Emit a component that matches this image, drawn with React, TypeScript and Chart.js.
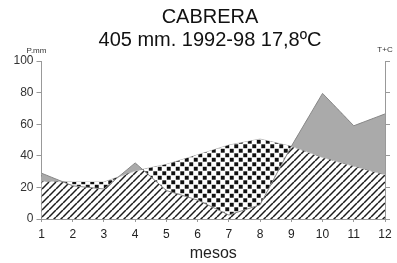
import React, { useEffect, useRef } from 'react';
import { Chart, registerables } from 'chart.js';

Chart.register(...registerables);

const months = ['1', '2', '3', '4', '5', '6', '7', '8', '9', '10', '11', '12'];
const precipitation = [29, 21, 19, 35.5, 18, 12, 2.5, 9, 46, 79.5, 59, 66.5];
const temperature = [12, 11.7, 11.7, 15.2, 17.3, 20.3, 23.4, 25.3, 23, 19.5, 16.7, 14];
const titleLines = ['CABRERA', '405 mm. 1992-98 17,8ºC'];
const xTitle = 'mesos';
const leftUnit = 'P.mm';
const rightUnit = 'T+C';

const W = 420;
const H = 263;
const FONT = "'Liberation Sans', Arial, Helvetica, sans-serif";

function makeHatch(ctx: CanvasRenderingContext2D) {
  const s = 7;
  const c = document.createElement('canvas');
  c.width = s;
  c.height = s;
  const g = c.getContext('2d')!;
  g.fillStyle = '#ffffff';
  g.fillRect(0, 0, s, s);
  g.strokeStyle = '#1c1c1c';
  g.lineWidth = 1.5;
  for (const k of [-s, 0, s]) {
    g.beginPath();
    g.moveTo(k, s);
    g.lineTo(k + s, 0);
    g.stroke();
  }
  return ctx.createPattern(c, 'repeat');
}

function makeDots(ctx: CanvasRenderingContext2D) {
  const s = 9;
  const c = document.createElement('canvas');
  c.width = s;
  c.height = s;
  const g = c.getContext('2d')!;
  g.fillStyle = '#ffffff';
  g.fillRect(0, 0, s, s);
  g.fillStyle = '#111111';
  g.fillRect(0.3, 0.3, 3.9, 3.9);
  g.fillRect(4.8, 4.8, 3.9, 3.9);
  return ctx.createPattern(c, 'repeat');
}

const unitLabels = {
  id: 'unitLabels',
  afterDraw(chart: any) {
    const { ctx, chartArea } = chart;
    ctx.save();
    ctx.fillStyle = '#333';
    ctx.font = `8px ${FONT}`;
    ctx.textAlign = 'center';
    ctx.textBaseline = 'middle';
    ctx.fillText(leftUnit, chartArea.left - 5, chartArea.top - 10);
    ctx.fillText(rightUnit, chartArea.right, chartArea.top - 11);
    ctx.restore();
  },
};

export default function App() {
  const ref = useRef<HTMLCanvasElement>(null);
  useEffect(() => {
    const canvas = ref.current!;
    const ctx = canvas.getContext('2d')!;
    const hatch = makeHatch(ctx);
    const dots = makeDots(ctx);
    const grey = '#aaaaaa';
    const axisColor = '#999999';
    const chart = new Chart(canvas, {
      type: 'line',
      data: {
        labels: months,
        datasets: [
          {
            label: 'P',
            data: precipitation,
            yAxisID: 'y',
            borderColor: '#8a8a8a',
            borderWidth: 1,
            pointRadius: 0,
            tension: 0,
            fill: { target: 1, above: grey, below: dots },
          } as any,
          {
            label: 'T',
            data: temperature,
            yAxisID: 'y2',
            borderColor: '#b0b0b0',
            borderWidth: 0.8,
            pointRadius: 0,
            tension: 0,
            fill: false,
          },
          {
            label: 'Phatch',
            data: precipitation,
            yAxisID: 'y',
            borderColor: 'rgba(0,0,0,0)',
            backgroundColor: hatch as any,
            pointRadius: 0,
            tension: 0,
            fill: 'origin',
          },
          {
            label: 'Thatch',
            data: temperature,
            yAxisID: 'y2',
            borderColor: 'rgba(0,0,0,0)',
            backgroundColor: hatch as any,
            pointRadius: 0,
            tension: 0,
            fill: 'origin',
          },
        ],
      },
      options: {
        responsive: false,
        animation: false,
        devicePixelRatio: 1,
        layout: { padding: 0 },
        plugins: {
          legend: { display: false },
          tooltip: { enabled: false },
          title: {
            display: true,
            text: titleLines,
            color: '#111',
            font: { size: 20, family: FONT, weight: 'normal', lineHeight: 1.15 },
            padding: { top: 6, bottom: 9 },
          },
        },
        scales: {
          x: {
            type: 'category',
            offset: false,
            grid: { display: true, drawOnChartArea: false, tickLength: 3, color: axisColor },
            border: { color: axisColor },
            ticks: { color: '#222', font: { size: 12, family: FONT }, padding: 5, maxRotation: 0, autoSkip: false },
            title: { display: true, text: xTitle, color: '#222', font: { size: 16, family: FONT }, padding: { top: 0, bottom: 0 } },
            afterFit(s: any) { s.height = 44; },
          },
          y: {
            position: 'left',
            min: 0,
            max: 100,
            grid: { drawOnChartArea: false, tickLength: 5, color: axisColor },
            border: { color: axisColor },
            ticks: {
              stepSize: 10,
              color: '#333',
              font: { size: 12, family: FONT },
              padding: 3,
              callback: (v: any) => (v % 20 === 0 ? String(v) : ''),
            },
            afterFit(s: any) { s.width = 41.5; },
          },
          y2: {
            position: 'right',
            min: 0,
            max: 50,
            grid: { drawOnChartArea: false, tickLength: 5, color: axisColor },
            border: { color: axisColor },
            ticks: {
              stepSize: 5,
              color: '#333',
              font: { size: 12, family: FONT },
              padding: 9,
              callback: (v: any) => (v % 10 === 0 ? String(v) : ''),
            },
            afterFit(s: any) { s.width = W - 385; },
          },
        },
      } as any,
      plugins: [unitLabels],
    });
    return () => chart.destroy();
  }, []);
  return (
    <div style={{ position: 'fixed', left: 0, top: 0, width: 397, height: 263, overflow: 'hidden', background: '#fff' }}>
      <canvas ref={ref} width={W} height={H} style={{ display: 'block', width: W, height: H }} />
    </div>
  );
}
